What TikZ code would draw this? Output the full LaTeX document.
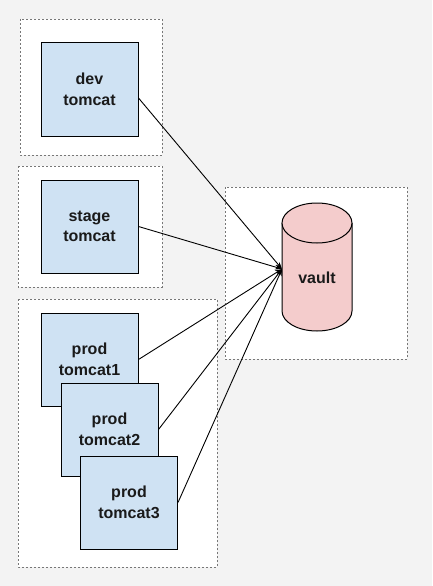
\documentclass[tikz,border=0pt]{standalone}
\usepackage{fontspec}
\setmainfont{Liberation Sans}
\usetikzlibrary{arrows.meta}
\definecolor{bgc}{HTML}{F3F3F3}
\definecolor{boxblue}{HTML}{CFE2F3}
\definecolor{vaultpink}{HTML}{F4CCCC}
\definecolor{dashgray}{HTML}{777777}
\definecolor{txt}{HTML}{1A1A1A}
\tikzset{
  groupbox/.style={draw=dashgray, fill=white, line width=0.8pt, dash pattern=on 2pt off 2pt},
  tomcatbox/.style={draw=black, fill=boxblue, line width=1pt, minimum width=97pt, minimum height=93pt,
    inner sep=0pt, align=center, text=txt, font=\bfseries\fontsize{16}{20.5}\selectfont},
  conn/.style={draw=black, line width=0.9pt, -{Stealth[length=7pt,width=5pt]}},
  lbl/.style={text=txt, font=\bfseries\fontsize{16}{20.5}\selectfont, inner sep=0pt}
}
\begin{document}
\begin{tikzpicture}[x=1pt,y=-1pt]
\useasboundingbox (0,0) rectangle (432,586);
\fill[bgc] (0,0) rectangle (432,586);
% groups
\draw[groupbox] (20,19) rectangle (162,155);
\draw[groupbox] (18,166) rectangle (162,287);
\draw[groupbox] (18,299) rectangle (217,567);
\draw[groupbox] (225,187) rectangle (407,359);
% tomcats
\node[tomcatbox] (dev) at (89.5,89.5) {dev\\tomcat};
\node[tomcatbox] (stage) at (89.5,226.5) {stage\\tomcat};
\node[tomcatbox] (prod1) at (89.5,359.5) {prod\\tomcat1};
\node[tomcatbox] (prod2) at (109.5,429.5) {prod\\tomcat2};
\node[tomcatbox] (prod3) at (129,502.5) {prod\\tomcat3};
% vault cylinder
\fill[vaultpink] (282,223) rectangle (352,311);
\fill[vaultpink] (317,311) ellipse [x radius=35pt, y radius=20pt];
\draw[line width=1pt] (282,223) -- (282,311) arc[start angle=180, end angle=360, x radius=35pt, y radius=20pt] -- (352,223);
\draw[line width=1pt, fill=vaultpink] (317,223) ellipse [x radius=35pt, y radius=20pt];
\node[lbl] (vault) at (317,278) {vault};
\coordinate (vin) at (282,269);
% connectors
\draw[conn] ([yshift=-8.5pt]dev.east) -- (vin);
\draw[conn] (stage.east) -- (vin);
\draw[conn] (prod1.east) -- (vin);
\draw[conn] (prod2.east) -- (vin);
\draw[conn] (prod3.east) -- (vin);
\end{tikzpicture}
\end{document}
